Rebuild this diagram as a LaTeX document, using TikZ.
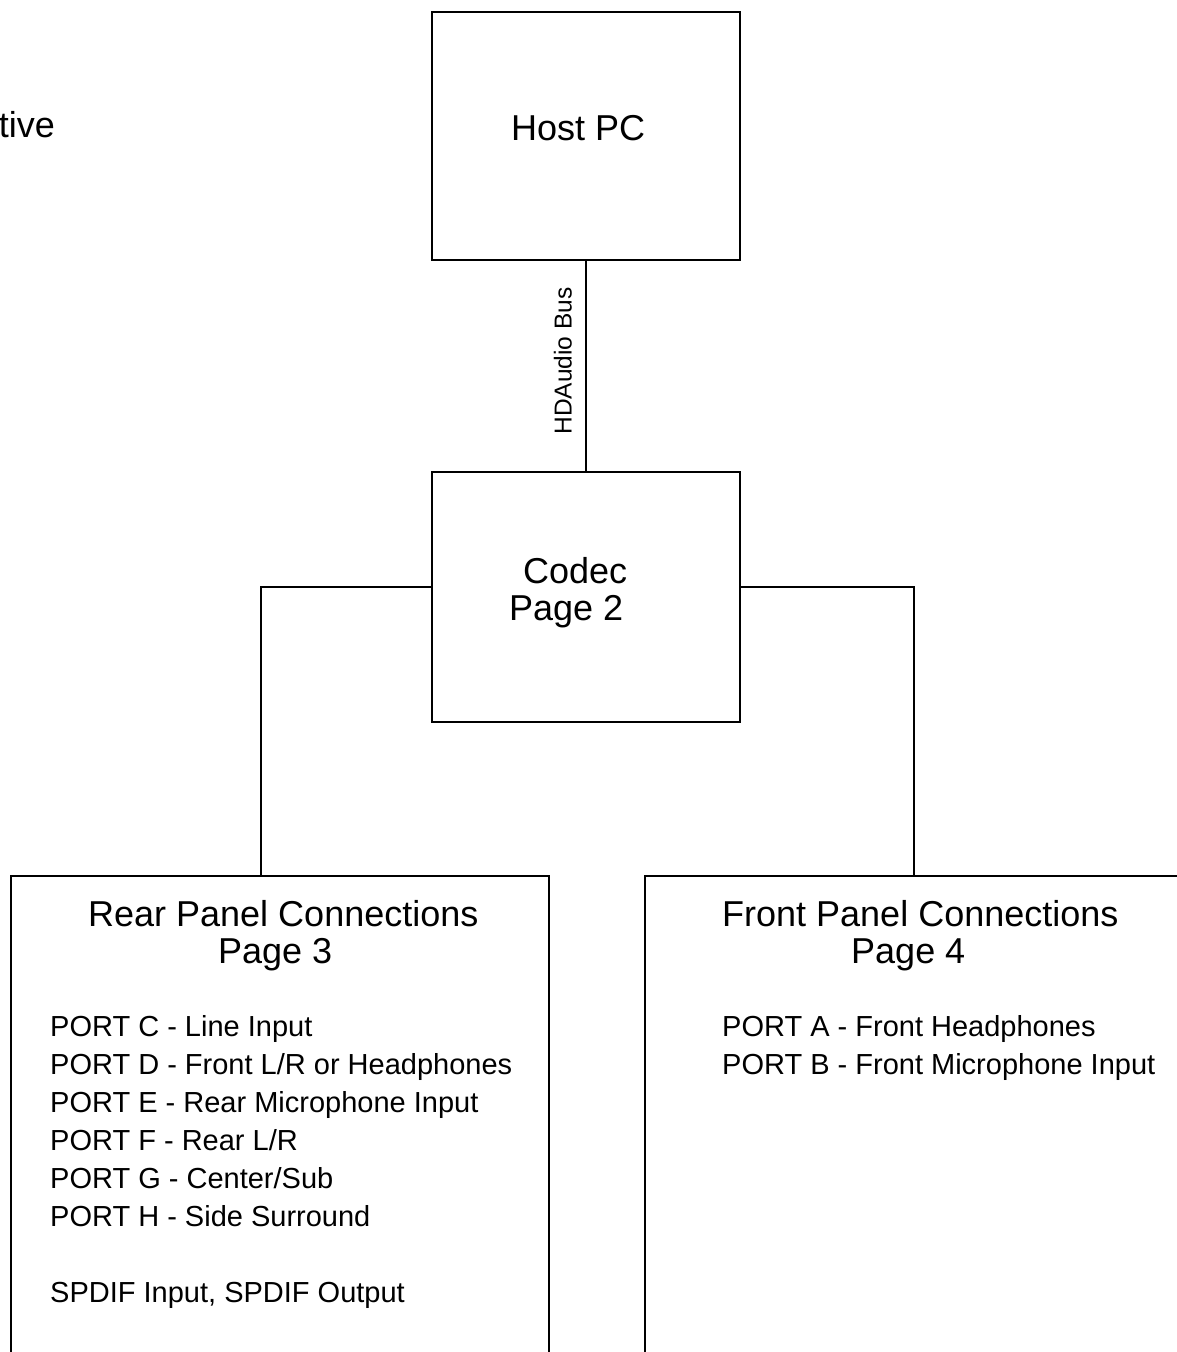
\documentclass[tikz,border=0pt]{standalone}
\usepackage{fontspec}
\setmainfont{Liberation Sans}

\begin{document}
\begin{tikzpicture}[x=1pt, y=-1pt,
    box/.style={draw, line width=1.8pt, rectangle, inner sep=0pt},
    wire/.style={line width=1.8pt},
    title/.style={font=\fontsize{36}{37}\selectfont, inner sep=0pt, align=left},
    ports/.style={font=\fontsize{29}{38}\selectfont, inner sep=0pt, align=left},
    bus/.style={font=\fontsize{24.5}{26}\selectfont, inner sep=0pt}
]
    \useasboundingbox (0,0) rectangle (1177,1352);
    \clip (0,0) rectangle (1177,1352);

    % BOXES:
    % host and codec share one column, the two panels run off the page
    \node[box, minimum width=308pt, minimum height=248pt] (host) at (586,136) {};
    \node[box, minimum width=308pt, minimum height=250pt] (codec) at (586,597) {};
    \node[box, minimum width=538pt, minimum height=600pt, anchor=north west] (rear) at (10,875) {};
    \node[box, minimum width=538pt, minimum height=600pt, anchor=north west] (front) at (644,875) {};

    % TEXTS:
    % base of a multi-line node is the baseline of its last line
    \node[title, anchor=base east] (tive) at (55,137) {tive};
    \node[title, anchor=base west] (hosttxt) at (511,140) {Host PC};
    \node[title, anchor=base west] (codectxt) at (509,620) {\hspace*{14pt}Codec\\Page 2};
    \node[title, anchor=base west] (reartitle) at (88,963) {Rear Panel Connections\\\hspace*{130pt}Page 3};
    \node[title, anchor=base west] (fronttitle) at (722,963) {Front Panel Connections\\\hspace*{129pt}Page 4};
    \node[ports, anchor=base west] (rearports) at (50,1302) {
        PORT C - Line Input\\
        PORT D - Front L/R or Headphones\\
        PORT E - Rear Microphone Input\\
        PORT F - Rear L/R\\
        PORT G - Center/Sub\\
        PORT H - Side Surround\\[38pt]
        SPDIF Input, SPDIF Output
    };
    \node[ports, anchor=base west] (frontports) at (722,1074) {
        PORT A - Front Headphones\\
        PORT B - Front Microphone Input
    };

    % CONNECTORS:
    \draw[wire] (host) -- (codec);
    \coordinate (busmid) at (572,361);
    \node[bus, rotate=90, anchor=south] (buslabel) at (busmid) {HDAudio Bus};
    \draw[wire] ([yshift=10pt]codec.west) -| ([xshift=-19pt]rear.north);
    \draw[wire] ([yshift=10pt]codec.east) -| (front.north);
\end{tikzpicture}
\end{document}
